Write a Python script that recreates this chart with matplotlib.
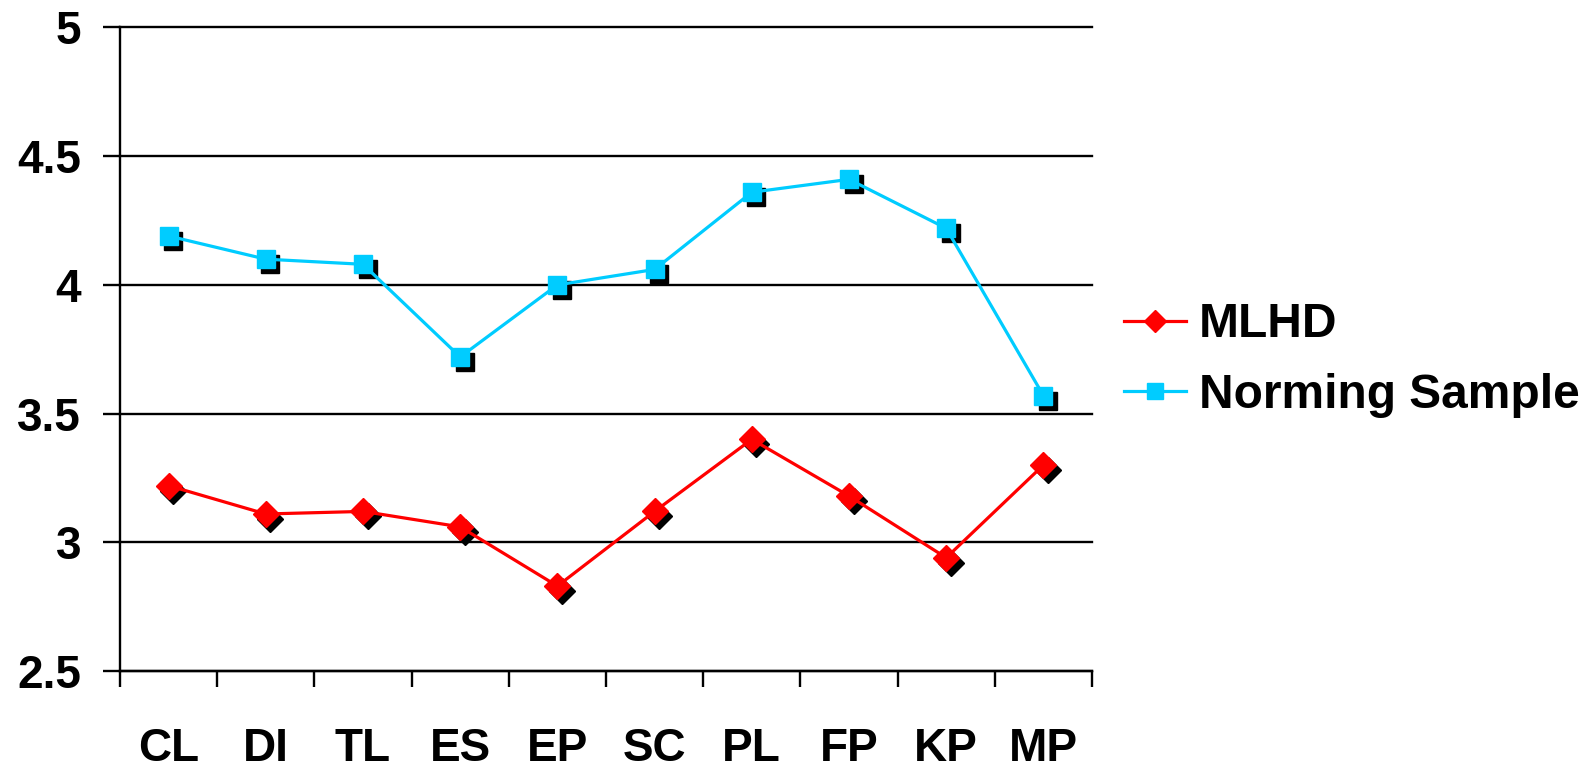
import matplotlib
matplotlib.use("Agg")
import matplotlib.pyplot as plt
import matplotlib.transforms as mtransforms
import numpy as np

# data
categories = ["CL", "DI", "TL", "ES", "EP", "SC", "PL", "FP", "KP", "MP"]
mlhd = [3.22, 3.11, 3.12, 3.06, 2.83, 3.12, 3.40, 3.18, 2.94, 3.30]
norming = [4.19, 4.10, 4.08, 3.72, 4.00, 4.06, 4.36, 4.41, 4.22, 3.57]
yticks = [2.5, 3, 3.5, 4, 4.5, 5]
ytick_labels = ["2.5", "3", "3.5", "4", "4.5", "5"]

plt.rcParams["font.family"] = ["Liberation Sans", "DejaVu Sans"]
plt.rcParams["font.weight"] = "bold"

fig = plt.figure(figsize=(15.93, 7.68), dpi=100)
ax = fig.add_axes([120 / 1593, 1 - 671 / 768, (1092 - 120) / 1593, (671 - 27.5) / 768])

x = np.arange(len(categories))

# black drop shadows behind the markers
shadow = mtransforms.offset_copy(ax.transData, fig=fig, x=4.5, y=-5, units="dots")
ax.plot(x, mlhd, linestyle="none", marker="D", markersize=13, color="black",
        transform=shadow, zorder=3)
ax.plot(x, norming, linestyle="none", marker="s", markersize=13.5, color="black",
        transform=shadow, zorder=3)

ax.plot(x, mlhd, color="#FF0000", lw=2.3, marker="D", markersize=13,
        label="MLHD", zorder=4)
ax.plot(x, norming, color="#00CCFF", lw=2.3, marker="s", markersize=13.5,
        label="Norming Sample", zorder=4)

ax.set_xlim(-0.5, len(categories) - 0.5)
ax.set_ylim(2.5, 5)
ax.set_yticks(yticks)
ax.set_yticklabels(ytick_labels)
ax.yaxis.grid(True, color="black", lw=1.7)
for gl in ax.get_ygridlines():
    gl.set_clip_on(False)
ax.set_axisbelow(True)

# tick marks at category boundaries, labels at the centres
ax.set_xticks(np.arange(-0.5, len(categories), 1.0))
ax.set_xticklabels([])
ax.set_xticks(x, minor=True)
ax.set_xticklabels(categories, minor=True)
ax.tick_params(axis="x", which="major", direction="out", length=11.5, width=1.7, color="black")
ax.tick_params(axis="x", which="minor", length=0, pad=40, labelsize=33)
ax.tick_params(axis="y", direction="out", length=12, width=1.7, pad=16, labelsize=33)

for s in ["top", "right"]:
    ax.spines[s].set_visible(False)
for s in ["left", "bottom"]:
    ax.spines[s].set_linewidth(1.7)
    ax.spines[s].set_color("black")

fig.legend(loc="center left", bbox_to_anchor=(1124 / 1593, 1 - 360 / 768),
           frameon=False, fontsize=34.5, handlelength=1.3, handletextpad=0.27,
           borderpad=0, borderaxespad=0, labelspacing=0.53, markerscale=0.85)

fig.savefig("out.png", dpi=100)
